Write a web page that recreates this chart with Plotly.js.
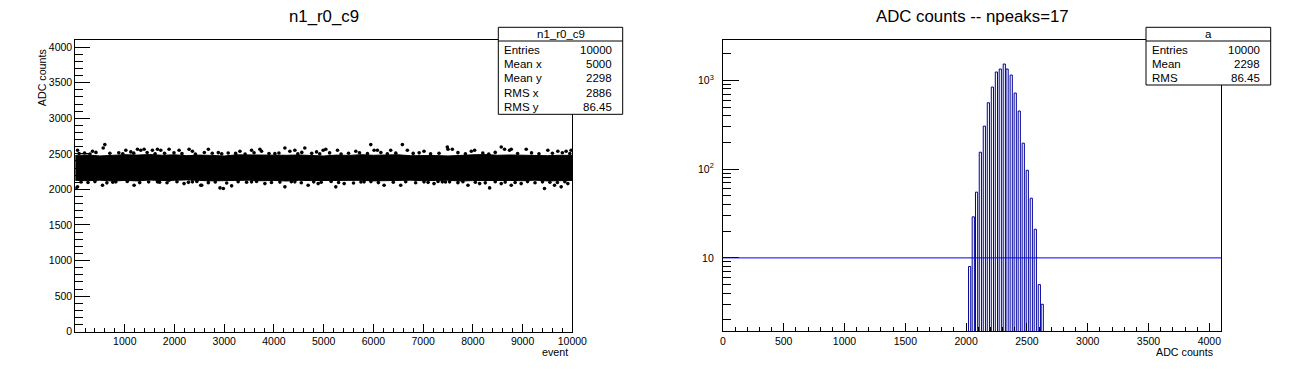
<!DOCTYPE html>
<html>
<head>
<meta charset="utf-8">
<script src="https://cdn.plot.ly/plotly-3.0.1.min.js"></script>
<style>html,body{margin:0;padding:0;background:#fff;}#chart{width:1296px;height:372px;}</style>
</head>
<body>
<div id="chart"></div>
<script>
// ---------- Left panel: ADC counts vs event (dense core band + fringe points) ----------
const bandEvent = [0,250,500,750,1000,1250,1500,1750,2000,2250,2500,2750,3000,3250,3500,3750,4000,4250,4500,4750,5000,5250,5500,5750,6000,6250,6500,6750,7000,7250,7500,7750,8000,8250,8500,8750,9000,9250,9500,9750,10000];
const bandUpper = [2478,2484,2470,2476,2488,2482,2490,2480,2486,2474,2482,2478,2470,2486,2484,2478,2472,2480,2484,2476,2470,2482,2478,2488,2480,2484,2486,2474,2480,2476,2470,2482,2486,2490,2480,2484,2478,2482,2474,2480,2478];
const bandLower = [2128,2122,2130,2118,2126,2120,2132,2124,2128,2134,2126,2120,2116,2124,2130,2122,2126,2118,2128,2124,2130,2122,2126,2128,2120,2126,2124,2130,2122,2126,2130,2118,2124,2120,2128,2126,2122,2130,2120,2124,2126];

// isolated points outside the band
const fringeEvent = [50,351,566,599,1021,1121,1255,1322,1389,1556,1657,1724,1891,2092,2293,2360,
  10,50,151,552,820,1188,1657,1891,2192,2360,2527,
  2681,2881,3316,3550,3718,3751,4019,4220,4320,4421,4621,4856,4989,
  2547,2915,2982,3149,3550,3818,4220,4421,4688,4889,
  5043,5278,5646,5947,6014,6081,6348,6583,6683,7018,7486,7587,
  5244,5412,5813,6215,6549,7018,7219,7386,
  7500,7969,8036,8571,8638,8738,8772,9073,9508,9709,9876,9976,
  7533,7902,8136,8337,8571,8772,8972,9441,9642,9776,9910];
const fringeADC = [2550,2536,2583,2630,2550,2527,2564,2550,2564,2550,2564,2550,2564,2550,2564,2536,
  2015,2036,2153,2059,2106,2059,2106,2129,2082,2106,2059,
  2564,2517,2536,2550,2564,2536,2503,2583,2536,2550,2583,2527,2550,
  2059,2021,2012,2050,2106,2082,2036,2106,2059,2082,
  2564,2550,2536,2630,2550,2550,2550,2630,2550,2536,2597,2564,
  2036,2082,2106,2059,2059,2106,2082,2106,
  2564,2536,2550,2597,2564,2550,2564,2564,2550,2536,2536,2550,
  2106,2059,2082,2021,2082,2059,2082,2012,2059,2036,2082];

// ragged points just above / below the dense band
const edgeTopEvent = [80,190,300,420,700,880,960,1180,1450,1610,1800,1990,2150,2420,2600,2760,2950,3080,3230,3420,3600,3900,4100,4480,4560,4760,4920,5120,5350,5500,5720,5880,6150,6280,6450,6800,6920,7150,7320,7700,7850,8200,8320,8450,8900,9180,9330,9600,9800,9950];
const edgeTopADC = [2505,2512,2498,2520,2508,2515,2502,2510,2518,2500,2507,2514,2503,2496,2519,2509,2501,2512,2506,2498,2516,2504,2511,2499,2520,2507,2502,2513,2497,2509,2515,2503,2518,2500,2510,2506,2514,2499,2508,2517,2502,2511,2496,2520,2505,2513,2500,2509,2516,2503];
const edgeBottomEvent = [120,260,400,640,760,1050,1300,1480,1700,1850,2050,2280,2450,2680,2820,3050,3280,3450,3650,3950,4120,4350,4550,4800,4950,5150,5300,5600,5750,5950,6100,6400,6650,6850,7100,7300,7450,7700,7800,8050,8250,8450,8650,8850,9100,9250,9400,9550,9700,9850];
const edgeBottomADC = [2105,2098,2110,2092,2102,2112,2096,2106,2100,2093,2108,2099,2111,2095,2104,2090,2107,2101,2113,2097,2103,2109,2094,2106,2100,2112,2098,2091,2105,2110,2096,2102,2108,2093,2099,2111,2104,2095,2107,2100,2092,2109,2103,2097,2110,2094,2106,2101,2098,2108];

// ---------- Right panel: histogram of ADC counts ----------
const binCenter = [2029,2059,2086,2117,2150,2183,2216,2249,2281,2314,2337,2371,2404,2437,2470,2503,2536,2569,2602,2626];
const binCount  = [8,29,55,155,305,559,840,1241,1341,1527,1341,1147,719,451,196,97,47,21,5,3];
const thresholdLevel = 10;

// ---------- Texts ----------
const leftTitle = "n1_r0_c9";
const rightTitle = "ADC counts -- npeaks=17";
const leftStatsHeader = "n1_r0_c9";
const leftStatsLabels = ["Entries","Mean x","Mean y","RMS x","RMS y"];
const leftStatsValues = ["10000","5000","2298","2886","86.45"];
const rightStatsHeader = "a";
const rightStatsLabels = ["Entries","Mean","RMS"];
const rightStatsValues = ["10000","2298","86.45"];
const logTickVals = [10,100,1000];
const logTickText = ["10","10<sup>2</sup>","10<sup>3</sup>"];

// ---------- Geometry helpers (pixel -> paper) ----------
const W = 1296, H = 372;
const px = x => x / W;
const py = y => 1 - y / H;
const FONT = "Liberation Sans, Arial, Helvetica, sans-serif";

const minorLog = [];
[1,10,100,1000].forEach(d => { for (let k = 2; k <= 9; k++) minorLog.push(k*d); });

const bandX = bandEvent.concat(bandEvent.slice().reverse());
const bandY = bandUpper.concat(bandLower.slice().reverse());
const dotX = fringeEvent.concat(edgeTopEvent, edgeBottomEvent);
const dotY = fringeADC.concat(edgeTopADC, edgeBottomADC);

const traces = [
  {type:'scatter', mode:'lines', x:bandX, y:bandY, fill:'toself', fillcolor:'#000000',
   line:{color:'#000000', width:1}, xaxis:'x', yaxis:'y', hoverinfo:'skip', showlegend:false},
  {type:'scatter', mode:'markers', x:dotX, y:dotY,
   marker:{color:'#000000', size:3.6}, xaxis:'x', yaxis:'y', showlegend:false},
  {type:'bar', x:binCenter, y:binCount, width:18, xaxis:'x2', yaxis:'y2',
   marker:{color:'rgba(255,255,255,0)', line:{color:'#00009c', width:1}}, showlegend:false}
];

const axisCommon = {
  showline:true, mirror:true, linecolor:'#000', linewidth:1, showgrid:false, zeroline:false,
  ticks:'inside', tickcolor:'#000', tickwidth:1,
  tickfont:{family:FONT, size:10.5, color:'#000'}
};

const shapes = [];
const annotations = [];

function statsBox(x0, x1, y0, y1, header, labels, values, labelX, valueX, headerX) {
  shapes.push({type:'rect', xref:'paper', yref:'paper', x0:px(x0), x1:px(x1), y0:py(y1), y1:py(y0),
               fillcolor:'#ffffff', line:{color:'#000', width:1}, layer:'above'});
  shapes.push({type:'line', xref:'paper', yref:'paper', x0:px(x0), x1:px(x1), y0:py(41), y1:py(41),
               line:{color:'#000', width:1}, layer:'above'});
  annotations.push({xref:'paper', yref:'paper', x:px(headerX), y:py(34.2), text:header, showarrow:false,
                    xanchor:'center', yanchor:'middle', font:{family:FONT, size:11.5, color:'#000'}});
  const rows = [50, 64.2, 78.4, 92.8, 107];
  labels.forEach((lab, i) => {
    annotations.push({xref:'paper', yref:'paper', x:px(labelX), y:py(rows[i]), text:lab, showarrow:false,
                      xanchor:'left', yanchor:'middle', font:{family:FONT, size:11.5, color:'#000'}});
    annotations.push({xref:'paper', yref:'paper', x:px(valueX), y:py(rows[i]), text:values[i], showarrow:false,
                      xanchor:'right', yanchor:'middle', font:{family:FONT, size:11.5, color:'#000'}});
  });
}

shapes.push({type:'line', xref:'x2 domain', yref:'y2', x0:0, x1:1, y0:thresholdLevel, y1:thresholdLevel,
             line:{color:'#0000ff', width:1}, layer:'above'});

statsBox(498.3, 622.7, 27.3, 114.3, leftStatsHeader, leftStatsLabels, leftStatsValues, 502, 614, 560.5);
statsBox(1146, 1270.7, 27.3, 85, rightStatsHeader, rightStatsLabels, rightStatsValues, 1150, 1262, 1208.3);

annotations.push({xref:'paper', yref:'paper', x:px(323.8), y:py(16.5), text:leftTitle, showarrow:false,
                  xanchor:'center', yanchor:'middle', font:{family:FONT, size:16.8, color:'#000'}});
annotations.push({xref:'paper', yref:'paper', x:px(972), y:py(16.5), text:rightTitle, showarrow:false,
                  xanchor:'center', yanchor:'middle', font:{family:FONT, size:16.8, color:'#000'}});
annotations.push({xref:'paper', yref:'paper', x:px(41.7), y:py(47), text:'ADC counts', showarrow:false,
                  textangle:-90, xanchor:'center', yanchor:'top', font:{family:FONT, size:10.7, color:'#000'}});
annotations.push({xref:'paper', yref:'paper', x:px(570), y:py(352), text:'event', showarrow:false,
                  xanchor:'right', yanchor:'middle', font:{family:FONT, size:10.7, color:'#000'}});
annotations.push({xref:'paper', yref:'paper', x:px(1215), y:py(352), text:'ADC counts', showarrow:false,
                  xanchor:'right', yanchor:'middle', font:{family:FONT, size:10.7, color:'#000'}});

const layout = {
  width:W, height:H, margin:{l:0, r:0, t:0, b:0, pad:0},
  paper_bgcolor:'#ffffff', plot_bgcolor:'#ffffff', showlegend:false, bargap:0,
  xaxis: Object.assign({}, axisCommon, {
    domain:[px(75.3), px(572.3)], range:[5, 10000], anchor:'y',
    tickmode:'linear', tick0:0, dtick:1000, ticklen:8, tickformat:'d',
    minor:{ticks:'inside', tick0:0, dtick:200, ticklen:4, tickcolor:'#000', tickwidth:1, showgrid:false}
  }),
  yaxis: Object.assign({}, axisCommon, {
    domain:[py(331.7), py(40.3)], range:[0, 4096], anchor:'x',
    tickmode:'linear', tick0:0, dtick:500, ticklen:15, tickformat:'d',
    minor:{ticks:'inside', tick0:0, dtick:100, ticklen:7.5, tickcolor:'#000', tickwidth:1, showgrid:false}
  }),
  xaxis2: Object.assign({}, axisCommon, {
    domain:[px(722.9), px(1221)], range:[0, 4096], anchor:'y2',
    tickmode:'linear', tick0:0, dtick:500, ticklen:8, tickformat:'d',
    minor:{ticks:'inside', tick0:0, dtick:100, ticklen:4, tickcolor:'#000', tickwidth:1, showgrid:false}
  }),
  yaxis2: Object.assign({}, axisCommon, {
    domain:[py(331.2), py(40.3)], type:'log', range:[0.174, 3.451], anchor:'x2',
    tickmode:'array', tickvals:logTickVals, ticktext:logTickText, ticklen:16,
    ticklabelstandoff:6,
    minor:{ticks:'inside', tickmode:'array', tickvals:minorLog, ticklen:8, tickcolor:'#000', tickwidth:1, showgrid:false}
  }),
  shapes:shapes, annotations:annotations
};

Plotly.newPlot('chart', traces, layout, {staticPlot:true, displayModeBar:false});
</script>
</body>
</html>
